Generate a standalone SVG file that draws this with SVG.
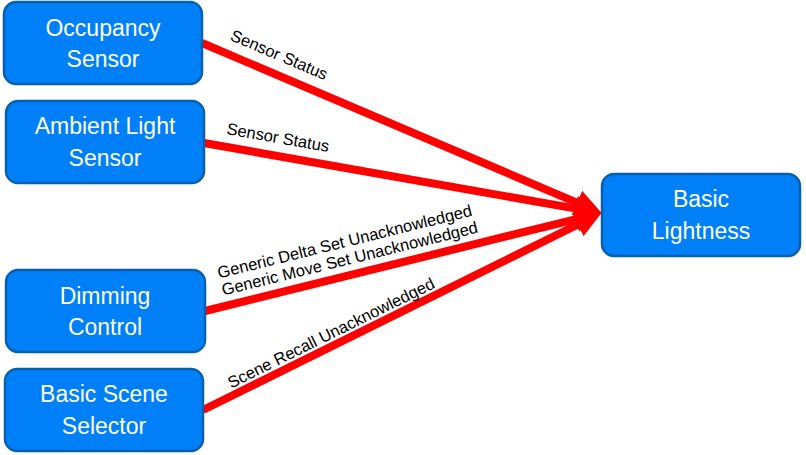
<svg xmlns="http://www.w3.org/2000/svg" width="806" height="455" viewBox="0 0 806 455">
<style>
.node rect{fill:#0080F8;stroke:#0560B0;stroke-width:2.5}
.node text{font-family:"Liberation Sans",Arial,sans-serif;font-size:23px;fill:#fff;text-anchor:middle}
.edge{stroke:#FF0000;stroke-width:8;fill:none;marker-end:url(#ah)}
.lbl{font-family:"Liberation Sans",Arial,sans-serif;font-size:16.5px;fill:#000;text-anchor:middle}
</style>
<defs>
<marker id="ah" markerUnits="userSpaceOnUse" markerWidth="27" markerHeight="26" refX="8" refY="13" orient="auto">
<path d="M0,0 L27,13 L0,26 z" fill="#FF0000"/>
</marker>
</defs>
<g id="connectors">
<line class="edge" x1="202" y1="43" x2="584.4" y2="205.9"/>
<line class="edge" x1="204" y1="143" x2="583.3" y2="209.9"/>
<line class="edge" x1="205" y1="311" x2="583.5" y2="217.3"/>
<line class="edge" x1="203" y1="410" x2="584.9" y2="221"/>
<text class="lbl" transform="translate(277,60) rotate(23.07)">Sensor Status</text>
<text class="lbl" transform="translate(277,143) rotate(10)">Sensor Status</text>
<text class="lbl" transform="translate(346,247) rotate(-13.9)">Generic Delta Set Unacknowledged</text>
<text class="lbl" transform="translate(351,264) rotate(-13.9)">Generic Move Set Unacknowledged</text>
<text class="lbl" transform="translate(333.5,338) rotate(-26.33)">Scene Recall Unacknowledged</text>
</g>
<g id="occupancy" class="node">
<rect x="4" y="2" width="198" height="82" rx="12"/>
<text x="103" y="35.5">Occupancy</text>
<text x="103" y="66.5">Sensor</text>
</g>
<g id="ambient" class="node">
<rect x="6" y="101" width="198" height="82" rx="12"/>
<text x="105" y="134.3">Ambient Light</text>
<text x="105" y="165.5">Sensor</text>
</g>
<g id="dimming" class="node">
<rect x="6" y="270" width="199" height="82" rx="12"/>
<text x="105" y="303.5">Dimming</text>
<text x="105" y="334.5">Control</text>
</g>
<g id="scene" class="node">
<rect x="5" y="369" width="198" height="82" rx="12"/>
<text x="104" y="402">Basic Scene</text>
<text x="104" y="433.5">Selector</text>
</g>
<g id="lightness" class="node">
<rect x="602" y="174" width="198" height="82" rx="12"/>
<text x="701" y="207">Basic</text>
<text x="701" y="238.5">Lightness</text>
</g>
</svg>
